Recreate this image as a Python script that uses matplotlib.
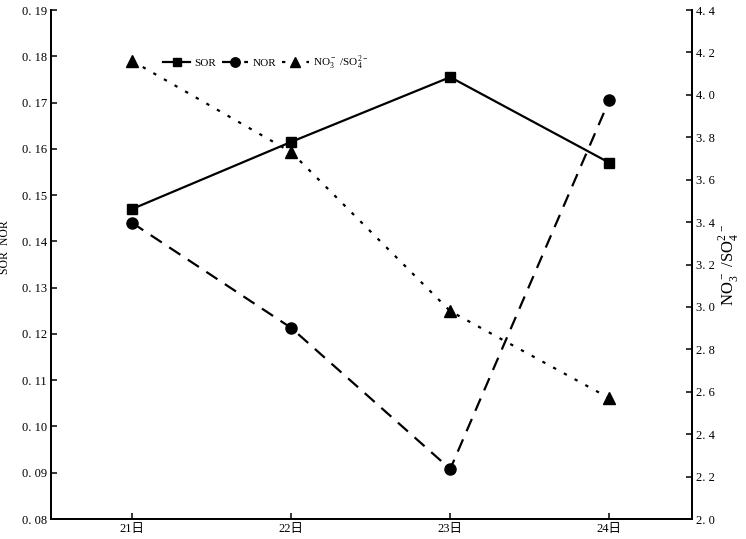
import matplotlib
matplotlib.use("Agg")
import matplotlib.pyplot as plt

plt.rcParams["font.family"] = ["Liberation Serif", "Noto Sans CJK SC", "DejaVu Sans"]
plt.rcParams["mathtext.fontset"] = "custom"
plt.rcParams["mathtext.rm"] = "Liberation Serif"

days = ["21日", "22日", "23日", "24日"]
sor = [0.147, 0.1615, 0.1755, 0.157]
nor = [0.144, 0.1213, 0.0908, 0.1705]
ratio = [4.16, 3.73, 2.98, 2.57]
left_ticks = [0.08, 0.09, 0.10, 0.11, 0.12, 0.13, 0.14, 0.15, 0.16, 0.17, 0.18, 0.19]
right_ticks = [2.0, 2.2, 2.4, 2.6, 2.8, 3.0, 3.2, 3.4, 3.6, 3.8, 4.0, 4.2, 4.4]

x = list(range(1, len(days) + 1))

fig = plt.figure(figsize=(7.46, 5.39), dpi=100)
ax = fig.add_axes([0.0684, 0.0371, 0.8592, 0.9443])
ax2 = ax.twinx()

l1, = ax.plot(x, sor, color="black", linewidth=1.6, marker="s", markersize=7, label="SOR")
l2, = ax.plot(x, nor, color="black", linewidth=1.6, linestyle=(0, (6, 4)), marker="o",
              markersize=8, label="NOR")
l3, = ax2.plot(x, ratio, color="black", linewidth=1.6, linestyle=(0, (1.5, 4)), marker="^",
               markersize=8, label=r"NO$_3^-$ /SO$_4^{2-}$")

ax.set_xlim(0.49, 4.52)
ax.set_ylim(0.08, 0.19)
ax2.set_ylim(2.0, 4.4)
ax.set_xticks(x)
ax.set_xticklabels(days)
ax.set_yticks(left_ticks)
ax.set_yticklabels([f"{v:.2f}".replace(".", ". ") for v in left_ticks])
ax2.set_yticks(right_ticks)
ax2.set_yticklabels([f"{v:.1f}".replace(".", ". ") for v in right_ticks])

for a in (ax, ax2):
    a.spines["top"].set_visible(False)
    for s in a.spines.values():
        s.set_linewidth(1.3)
    a.tick_params(direction="in", labelsize=9, length=4, width=1.1, pad=3)

ax.set_ylabel("SOR  NOR", fontsize=8.5)
ax.yaxis.set_label_coords(-0.063, 0.535)
ax2.set_ylabel(r"NO$_3^-$ /SO$_4^{2-}$", fontsize=12)
ax2.yaxis.set_label_coords(1.038, 0.5)

ax.legend(handles=[l1, l2, l3], loc="center left", bbox_to_anchor=(0.175, 0.896), ncol=3,
          frameon=False, fontsize=8, handlelength=2.4, columnspacing=0.5, handletextpad=0.4,
          borderaxespad=0, borderpad=0, markerscale=0.85)

fig.savefig("out.png", dpi=100)
